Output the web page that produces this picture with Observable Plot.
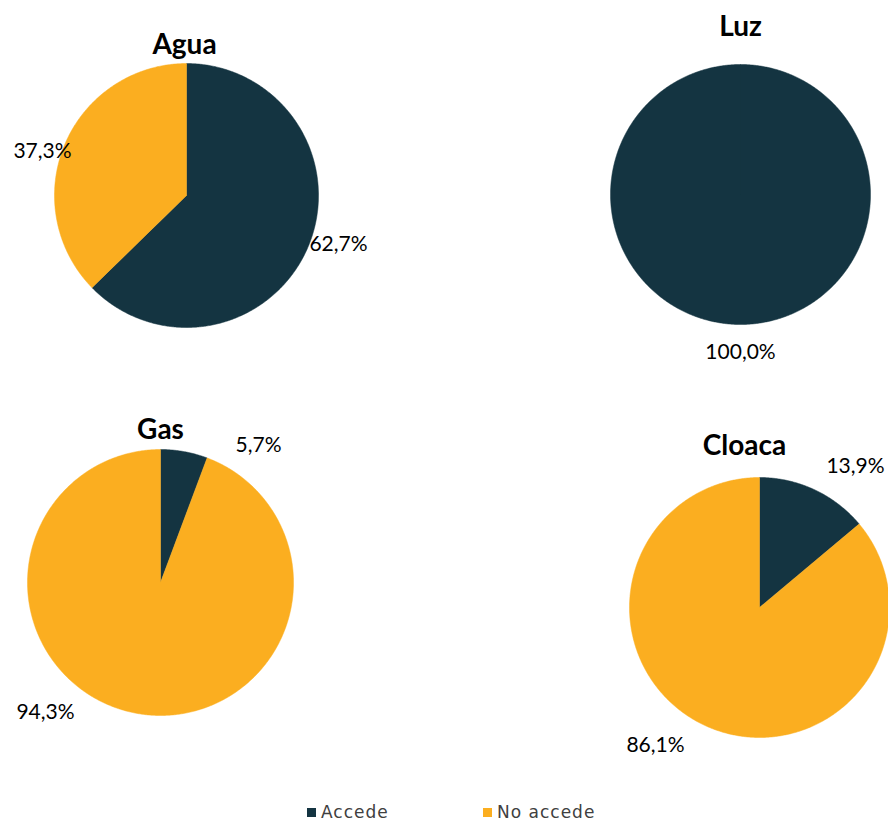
<!DOCTYPE html>
<html>
<head>
<meta charset="utf-8">
<script src="https://cdn.jsdelivr.net/npm/d3@7"></script>
<script src="https://cdn.jsdelivr.net/npm/@observablehq/plot@0.6"></script>
<style>
  body { margin: 0; background: #fff; }
  #chart { width: 888px; }
  .legend { position: relative; height: 24px; font-family: "DejaVu Sans", Verdana, sans-serif; font-size: 17px; letter-spacing: 1px; color: #404040; }
  .legend .item { position: absolute; top: 5px; display: flex; align-items: center; line-height: 20px; }
  .legend .sw { width: 9px; height: 9px; margin-right: 5px; }
</style>
</head>
<body>
<div id="chart"></div>
<script>
// ---- data ----
const services = ["Agua", "Luz", "Gas", "Cloaca"];
const categories = ["Accede", "No accede"];
const accede = [62.7, 100.0, 5.7, 13.9];
const noAccede = [37.3, 0.0, 94.3, 86.1];
const colors = ["#143441", "#FBAE20"];

// ---- layout (pixels) ----
const layout = {
  Agua:   {cx: 186, cy: 195, r: 132, title: [184, 45]},
  Luz:    {cx: 740, cy: 194, r: 130, title: [740, 27]},
  Gas:    {cx: 160, cy: 582, r: 133, title: [160, 430]},
  Cloaca: {cx: 759, cy: 607, r: 130, title: [744, 446]}
};
// label offsets from pie centre, per [service][category]
const labelOffsets = {
  Agua:   [[152, 49], [-144, -44]],
  Luz:    [[0, 158], null],
  Gas:    [[98, -137], [-115, 130]],
  Cloaca: [[96, -141], [-104, 138]]
};

const fmt = v => v.toFixed(1).replace(".", ",") + "%";

const pts = [];
const labels = [];
const titles = [];
services.forEach((s, i) => {
  const L = layout[s];
  const vals = [accede[i], noAccede[i]];
  let start = 0;
  vals.forEach((v, k) => {
    if (v <= 0) return;
    const a0 = start / 100 * 2 * Math.PI;
    const a1 = (start + v) / 100 * 2 * Math.PI;
    const key = s + "-" + k;
    pts.push({key, cat: categories[k], x: L.cx, y: L.cy});
    const n = Math.max(2, Math.ceil((a1 - a0) / (Math.PI / 360)));
    for (let j = 0; j <= n; j++) {
      const a = a0 + (a1 - a0) * j / n;
      pts.push({key, cat: categories[k], x: L.cx + L.r * Math.sin(a), y: L.cy - L.r * Math.cos(a)});
    }
    pts.push({key, cat: categories[k], x: L.cx, y: L.cy});
    const off = labelOffsets[s][k];
    if (off) labels.push({x: L.cx + off[0], y: L.cy + off[1], text: fmt(v)});
    start += v;
  });
  titles.push({x: L.title[0], y: L.title[1], text: s});
});

const W = 888, H = 797;
const plot = Plot.plot({
  width: W, height: H,
  margin: 0,
  x: {domain: [0, W], range: [0, W], axis: null},
  y: {domain: [0, H], range: [0, H], axis: null},
  color: {domain: categories, range: colors},
  marks: [
    Plot.line(pts, {x: "x", y: "y", z: "key", fill: "cat", stroke: "cat", strokeWidth: 0.5, curve: "linear"}),
    Plot.text(labels, {x: "x", y: "y", text: "text", fontSize: 21, fontFamily: "Lato, 'Open Sans', sans-serif", fill: "#000"}),
    Plot.text(titles, {x: "x", y: "y", text: "text", fontSize: 28, fontWeight: "bold", fontFamily: "Lato, 'Open Sans', sans-serif", fill: "#000"})
  ]
});
document.getElementById("chart").appendChild(plot);

// legend
const leg = document.createElement("div");
leg.className = "legend";
const legX = [307, 483];
categories.forEach((c, k) => {
  const it = document.createElement("div");
  it.className = "item";
  it.style.left = legX[k] + "px";
  const sw = document.createElement("span");
  sw.className = "sw";
  sw.style.background = colors[k];
  const t = document.createElement("span");
  t.textContent = c;
  it.appendChild(sw); it.appendChild(t);
  leg.appendChild(it);
});
document.getElementById("chart").appendChild(leg);
</script>
</body>
</html>
